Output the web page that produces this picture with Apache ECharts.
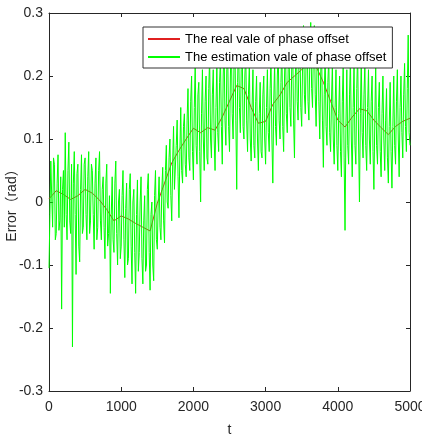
<!DOCTYPE html>
<html>
<head>
<meta charset="utf-8">
<title>phase offset</title>
<script src="https://cdn.jsdelivr.net/npm/echarts@6/dist/echarts.min.js"></script>
<style>
    html, body { margin: 0; padding: 0; background: #fff; }
    #main { width: 422px; height: 434px; }
</style>
</head>
<body>
<div id="main"></div>
<script>
// sampling steps of the two curves (t units)
var realStep = 100;
var estStep = 12.5;

// real value of phase offset, one value every 100 t
var realVals = [
    0.005, 0.018, 0.012, 0.004, 0.010, 0.020, 0.014, 0.003, -0.012, -0.030,
    -0.022, -0.027, -0.034, -0.040, -0.046, -0.002, 0.030, 0.062, 0.082, 0.100,
    0.117, 0.110, 0.118, 0.114, 0.135, 0.160, 0.185, 0.180, 0.150, 0.125,
    0.128, 0.155, 0.170, 0.190, 0.200, 0.210, 0.222, 0.215, 0.190, 0.160,
    0.130, 0.119, 0.135, 0.148, 0.145, 0.130, 0.118, 0.107, 0.120, 0.128,
    0.133
];

// estimated value of phase offset, one value every 12.5 t (20 per row = 250 t)
var estVals = [
    -0.105, -0.02, 0.065, 0.01, -0.04, 0.07, 0.06, -0.06, -0.05, 0.03, 0.075, -0.045, -0.03, 0.04, -0.17, 0.02, 0.05, -0.04, 0.11, -0.02,
    -0.06, 0.05, 0.095, -0.03, -0.05, 0.06, -0.23, 0.03, 0.08, -0.02, -0.115, 0.045, 0.06, -0.07, -0.095, 0.02, 0.075, -0.05, -0.04, 0.06,
    0.07, -0.02, -0.06, 0.04, 0.08, -0.05, -0.03, 0.06, 0.05, -0.02, -0.075, 0.03, 0.07, -0.06, -0.04, 0.05, 0.08, -0.03, -0.06, 0.02,
    0.04, -0.04, -0.09, 0.03, 0.06, -0.07, -0.05, 0.01, -0.145, -0.02, 0.04, -0.06, -0.08, 0.03, 0.065, -0.05, -0.1, 0.0, 0.02, -0.09,
    -0.07, 0.01, 0.05, -0.06, -0.12, -0.01, 0.03, -0.1, -0.09, 0.02, 0.045, -0.07, -0.13, 0.0, 0.02, -0.08, -0.145, -0.02, 0.035, -0.11,
    -0.08, 0.0, 0.04, -0.09, -0.13, -0.03, 0.01, -0.11, -0.1, 0.02, 0.045, -0.08, -0.14, -0.02, 0.0, -0.1, -0.125, 0.01, 0.05, -0.06,
    -0.075, 0.0, 0.04, -0.04, -0.06, 0.02, 0.055, -0.03, -0.065, 0.05, 0.09, 0.0, -0.01, 0.07, 0.1, 0.01, -0.03, 0.06, 0.12, 0.02,
    0.02, 0.09, 0.13, 0.04, -0.025, 0.08, 0.15, 0.05, 0.03, 0.12, 0.14, 0.06, 0.04, 0.13, 0.18, 0.07, 0.05, 0.16, 0.2, 0.08,
    0.035, 0.15, 0.22, 0.09, 0.06, 0.17, 0.19, 0.08, 0.0, 0.14, 0.21, 0.1, 0.05, 0.16, 0.2, 0.07, 0.06, 0.18, 0.23, 0.1,
    0.07, 0.17, 0.21, 0.1, 0.05, 0.15, 0.22, 0.11, 0.08, 0.19, 0.23, 0.12, 0.06, 0.2, 0.25, 0.13, 0.09, 0.21, 0.24, 0.12,
    0.08, 0.2, 0.26, 0.14, 0.1, 0.22, 0.25, 0.13, 0.02, 0.19, 0.27, 0.15, 0.11, 0.21, 0.26, 0.12, 0.1, 0.2, 0.24, 0.13,
    0.08, 0.17, 0.22, 0.1, 0.065, 0.15, 0.21, 0.09, 0.07, 0.16, 0.2, 0.1, 0.05, 0.14, 0.19, 0.08, 0.07, 0.17, 0.2, 0.1,
    0.06, 0.15, 0.21, 0.11, 0.08, 0.18, 0.23, 0.1, 0.03, 0.16, 0.22, 0.12, 0.09, 0.2, 0.24, 0.13, 0.1, 0.19, 0.25, 0.12,
    0.08, 0.2, 0.26, 0.14, 0.11, 0.21, 0.24, 0.15, 0.12, 0.22, 0.25, 0.13, 0.07, 0.2, 0.27, 0.16, 0.13, 0.23, 0.26, 0.15,
    0.12, 0.22, 0.28, 0.17, 0.14, 0.24, 0.27, 0.16, 0.13, 0.23, 0.285, 0.18, 0.15, 0.25, 0.28, 0.17, 0.12, 0.22, 0.27, 0.16,
    0.1, 0.2, 0.25, 0.13, 0.055, 0.17, 0.24, 0.12, 0.09, 0.19, 0.23, 0.11, 0.08, 0.16, 0.22, 0.1, 0.06, 0.15, 0.21, 0.09,
    0.05, 0.14, 0.2, 0.08, 0.04, 0.16, 0.22, 0.07, -0.045, 0.12, 0.21, 0.09, 0.06, 0.17, 0.23, 0.1, 0.04, 0.15, 0.22, 0.09,
    0.06, 0.18, 0.24, 0.1, 0.0, 0.14, 0.23, 0.11, 0.07, 0.17, 0.22, 0.09, 0.05, 0.15, 0.21, 0.1, 0.06, 0.16, 0.2, 0.08,
    0.02, 0.13, 0.22, 0.09, 0.06, 0.15, 0.19, 0.08, 0.04, 0.14, 0.2, 0.1, 0.05, 0.13, 0.18, 0.07, 0.03, 0.12, 0.19, 0.08,
    0.022, 0.12, 0.2, 0.09, 0.06, 0.16, 0.21, 0.1, 0.04, 0.15, 0.2, 0.11, 0.07, 0.17, 0.22, 0.12, 0.08, 0.18, 0.265, 0.11,
    0.09
];

var yTicks = [-0.3, -0.2, -0.1, 0, 0.1, 0.2, 0.3];
var xMax = 5000;

var toPairs = function (vals, step) {
    return vals.map(function (v, i) {
        return [i * step, v];
    });
};

var axisColor = '#262626';
var fontFamily = '"Liberation Sans", Arial, "Noto Sans CJK SC", sans-serif';

var myChart = echarts.init(document.getElementById('main'));
var option = {
    animation: false,
    backgroundColor: '#fff',
    grid: {
        left: 49,
        top: 13,
        width: 361,
        height: 378,
        containLabel: false,
        outerBoundsMode: 'none'
    },
    legend: {
        orient: 'vertical',
        left: 143,
        top: 27,
        padding: [4, 6, 3, 5],
        itemGap: 2,
        itemWidth: 32,
        itemHeight: 2,
        backgroundColor: '#fff',
        borderColor: '#333',
        borderWidth: 1,
        borderRadius: 0,
        textStyle: {
            fontFamily: fontFamily,
            fontSize: 13,
            color: '#000',
            lineHeight: 16
        },
        data: [
            {name: 'The real vale of phase offset', icon: 'rect'},
            {name: 'The estimation vale of phase offset', icon: 'rect'}
        ]
    },
    xAxis: [{
        type: 'value',
        min: 0,
        max: xMax,
        interval: 1000,
        name: 't',
        nameLocation: 'middle',
        nameGap: 32,
        nameMoveOverlap: false,
        nameTextStyle: {fontFamily: fontFamily, fontSize: 14, color: axisColor},
        axisLine: {show: true, onZero: false, lineStyle: {color: axisColor, width: 1}},
        axisTick: {inside: true, length: 4, lineStyle: {color: axisColor}},
        axisLabel: {
            fontFamily: fontFamily, fontSize: 14, color: axisColor, margin: 9,
            formatter: function (v) {
                return String(v);
            }
        },
        splitLine: {show: false}
    }, {
        type: 'value',
        position: 'top',
        min: 0,
        max: xMax,
        interval: 1000,
        axisLine: {show: true, onZero: false, lineStyle: {color: axisColor, width: 1}},
        axisTick: {inside: true, length: 4, lineStyle: {color: axisColor}},
        axisLabel: {show: false},
        splitLine: {show: false}
    }],
    yAxis: [{
        type: 'value',
        min: yTicks[0],
        max: yTicks[yTicks.length - 1],
        interval: 0.1,
        name: 'Error（rad）',
        nameLocation: 'middle',
        nameGap: 30,
        nameMoveOverlap: false,
        nameTextStyle: {fontFamily: fontFamily, fontSize: 14, color: axisColor},
        axisLine: {show: true, onZero: false, lineStyle: {color: axisColor, width: 1}},
        axisTick: {show: true, inside: true, length: 4, lineStyle: {color: axisColor}},
        axisLabel: {
            fontFamily: fontFamily, fontSize: 14, color: axisColor, margin: 6,
            formatter: function (v) {
                return String(Math.round(v * 10) / 10);
            }
        },
        splitLine: {show: false}
    }, {
        type: 'value',
        position: 'right',
        min: yTicks[0],
        max: yTicks[yTicks.length - 1],
        interval: 0.1,
        axisLine: {show: true, onZero: false, lineStyle: {color: axisColor, width: 1}},
        axisTick: {show: true, inside: true, length: 4, lineStyle: {color: axisColor}},
        axisLabel: {show: false},
        splitLine: {show: false}
    }],
    series: [{
        name: 'The real vale of phase offset',
        type: 'line',
        showSymbol: false,
        symbol: 'none',
        color: '#e02020',
        lineStyle: {width: 1, color: '#e02020'},
        data: toPairs(realVals, realStep),
        z: 2
    }, {
        name: 'The estimation vale of phase offset',
        type: 'line',
        showSymbol: false,
        symbol: 'none',
        color: '#00ff00',
        lineStyle: {width: 1, color: '#00ff00'},
        data: toPairs(estVals, estStep),
        z: 3
    }]
};
myChart.setOption(option);
</script>
</body>
</html>
